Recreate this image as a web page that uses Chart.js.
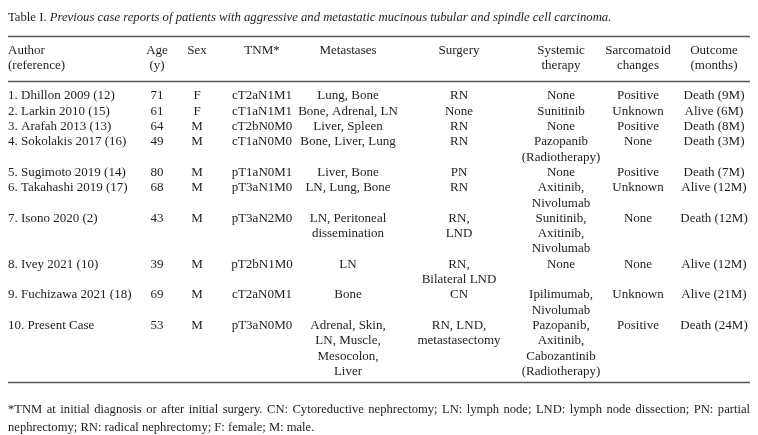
<!DOCTYPE html>
<html>
<head>
<meta charset="utf-8">
<script src="https://cdn.jsdelivr.net/npm/chart.js@4"></script>
<style>
  html, body { margin: 0; padding: 0; background: #ffffff; }
  canvas { display: block; }
</style>
</head>
<body>
<canvas id="tableChart" width="758" height="435"></canvas>
<script>
// Table data — one array per column
const headers = [
    ['Author', '(reference)'], ['Age', '(y)'], ['Sex'], ['TNM*'], ['Metastases'],
    ['Surgery'], ['Systemic', 'therapy'], ['Sarcomatoid', 'changes'], ['Outcome', '(months)']
];
const authors = [
    '1. Dhillon 2009 (12)', '2. Larkin 2010 (15)', '3. Arafah 2013 (13)', '4. Sokolakis 2017 (16)',
    '5. Sugimoto 2019 (14)', '6. Takahashi 2019 (17)', '7. Isono 2020 (2)', '8. Ivey 2021 (10)',
    '9. Fuchizawa 2021 (18)', '10. Present Case'
];
const ages = [71, 61, 64, 49, 80, 68, 43, 39, 69, 53];
const sexes = ['F', 'F', 'M', 'M', 'M', 'M', 'M', 'M', 'M', 'M'];
const tnm = ['cT2aN1M1', 'cT1aN1M1', 'cT2bN0M0', 'cT1aN0M0', 'pT1aN0M1', 'pT3aN1M0', 'pT3aN2M0', 'pT2bN1M0', 'cT2aN0M1', 'pT3aN0M0'];
const metastases = [
    ['Lung, Bone'], ['Bone, Adrenal, LN'], ['Liver, Spleen'], ['Bone, Liver, Lung'], ['Liver, Bone'],
    ['LN, Lung, Bone'], ['LN, Peritoneal', 'dissemination'], ['LN'], ['Bone'],
    ['Adrenal, Skin,', 'LN, Muscle,', 'Mesocolon,', 'Liver']
];
const surgery = [
    ['RN'], ['None'], ['RN'], ['RN'], ['PN'], ['RN'], ['RN,', 'LND'], ['RN,', 'Bilateral LND'], ['CN'],
    ['RN, LND,', 'metastasectomy']
];
const systemic = [
    ['None'], ['Sunitinib'], ['None'], ['Pazopanib', '(Radiotherapy)'], ['None'], ['Axitinib,', 'Nivolumab'],
    ['Sunitinib,', 'Axitinib,', 'Nivolumab'], ['None'], ['Ipilimumab,', 'Nivolumab'],
    ['Pazopanib,', 'Axitinib,', 'Cabozantinib', '(Radiotherapy)']
];
const sarcomatoid = ['Positive', 'Unknown', 'Positive', 'None', 'Positive', 'Unknown', 'None', 'None', 'Unknown', 'Positive'];
const outcome = ['Death (9M)', 'Alive (6M)', 'Death (8M)', 'Death (3M)', 'Death (7M)', 'Alive (12M)', 'Death (12M)', 'Alive (12M)', 'Alive (21M)', 'Death (24M)'];

const titleLabel = 'Table I. ';
const titleText = 'Previous case reports of patients with aggressive and metastatic mucinous tubular and spindle cell carcinoma.';
const footnote = [
    '*TNM at initial diagnosis or after initial surgery. CN: Cytoreductive nephrectomy; LN: lymph node; LND: lymph node dissection; PN: partial',
    'nephrectomy; RN: radical nephrectomy; F: female; M: male.'
];

// Layout (x in page units, y in text-line units)
const COLS = [
    { x: 8, align: 'left' }, { x: 157, align: 'center' }, { x: 197, align: 'center' },
    { x: 262, align: 'center' }, { x: 348, align: 'center' }, { x: 459, align: 'center' },
    { x: 561, align: 'center' }, { x: 638, align: 'center' }, { x: 714, align: 'center' }
];
const LEFT = 8, RIGHT = 750;
const FONT = '13px "Liberation Serif", "Times New Roman", serif';
const FONT_TITLE = '12.7px "Liberation Serif", "Times New Roman", serif';
const FONT_IT = 'italic 12.7px "Liberation Serif", "Times New Roman", serif';
const FONT_NOTE = '12.6px "Liberation Serif", "Times New Roman", serif';
const TEXT = '#1e1e1e';
const RULE = '#555555';

// Build cell points: every text line of a cell becomes a point on the scales
const columns = [authors, ages, sexes, tnm, metastases, surgery, systemic, sarcomatoid, outcome]
    .map(col => col.map(v => Array.isArray(v) ? v : [String(v)]));
const rowStart = [];
let acc = 0;
for (let r = 0; r < authors.length; r++) {
    rowStart.push(acc);
    acc += Math.max(...columns.map(c => c[r].length));
}
const datasets = columns.map((col, c) => ({
    label: headers[c].join(' '),
    data: col.flatMap((lines, r) => lines.map((t, k) => ({ x: COLS[c].x, y: rowStart[r] + k, text: t }))),
    pointRadius: 0
}));
// header cells
datasets.push({
    label: 'headers',
    data: headers.flatMap((lines, c) => lines.map((t, k) => ({ x: COLS[c].x, y: -2.95 + k * 0.98, text: t, col: c }))),
    pointRadius: 0
});

const tablePlugin = {
    id: 'tableText',
    afterDraw(chart) {
        const ctx = chart.ctx;
        const xs = chart.scales.x, ys = chart.scales.y;
        ctx.save();
        ctx.fillStyle = TEXT;
        ctx.textBaseline = 'middle';
        ctx.font = FONT;

        // cells
        chart.data.datasets.forEach((ds, i) => {
            const meta = chart.getDatasetMeta(i);
            meta.data.forEach((el, j) => {
                const p = ds.data[j];
                const c = p.col !== undefined ? p.col : i;
                ctx.textAlign = COLS[c].align;
                ctx.fillText(p.text, el.x, el.y);
            });
        });

        // title
        ctx.textAlign = 'left';
        const ty = ys.getPixelForValue(-5.15);
        ctx.font = FONT_TITLE;
        ctx.fillText(titleLabel, xs.getPixelForValue(LEFT), ty);
        const w0 = ctx.measureText(titleLabel).width;
        ctx.font = FONT_IT;
        ctx.fillText(titleText, xs.getPixelForValue(LEFT) + w0, ty);

        // rules
        ctx.strokeStyle = RULE;
        ctx.lineWidth = 1.5;
        [-3.93, -0.98, 18.72].forEach(v => {
            const y = Math.round(ys.getPixelForValue(v)) + 0.5;
            ctx.beginPath();
            ctx.moveTo(xs.getPixelForValue(LEFT), y);
            ctx.lineTo(xs.getPixelForValue(RIGHT), y);
            ctx.stroke();
        });

        // footnote (first line justified)
        ctx.font = FONT_NOTE;
        const words = footnote[0].split(' ');
        const ww = words.map(w => ctx.measureText(w).width);
        const span = xs.getPixelForValue(RIGHT) - xs.getPixelForValue(LEFT);
        const gap = (span - ww.reduce((a, b) => a + b, 0)) / (words.length - 1);
        let x = xs.getPixelForValue(LEFT);
        const fy1 = ys.getPixelForValue(20.5);
        words.forEach((w, k) => { ctx.fillText(w, x, fy1); x += ww[k] + gap; });
        ctx.fillText(footnote[1], xs.getPixelForValue(LEFT), ys.getPixelForValue(21.65));
        ctx.restore();
    }
};

new Chart(document.getElementById('tableChart'), {
    type: 'scatter',
    data: { datasets },
    options: {
        responsive: false,
        animation: false,
        layout: { padding: 0 },
        plugins: { legend: { display: false }, tooltip: { enabled: false } },
        scales: {
            x: { type: 'linear', min: 0, max: 758, display: false },
            y: { type: 'linear', min: -96 / 15.3, max: (435 - 96) / 15.3, reverse: true, display: false }
        }
    },
    plugins: [tablePlugin]
});
</script>
</body>
</html>
